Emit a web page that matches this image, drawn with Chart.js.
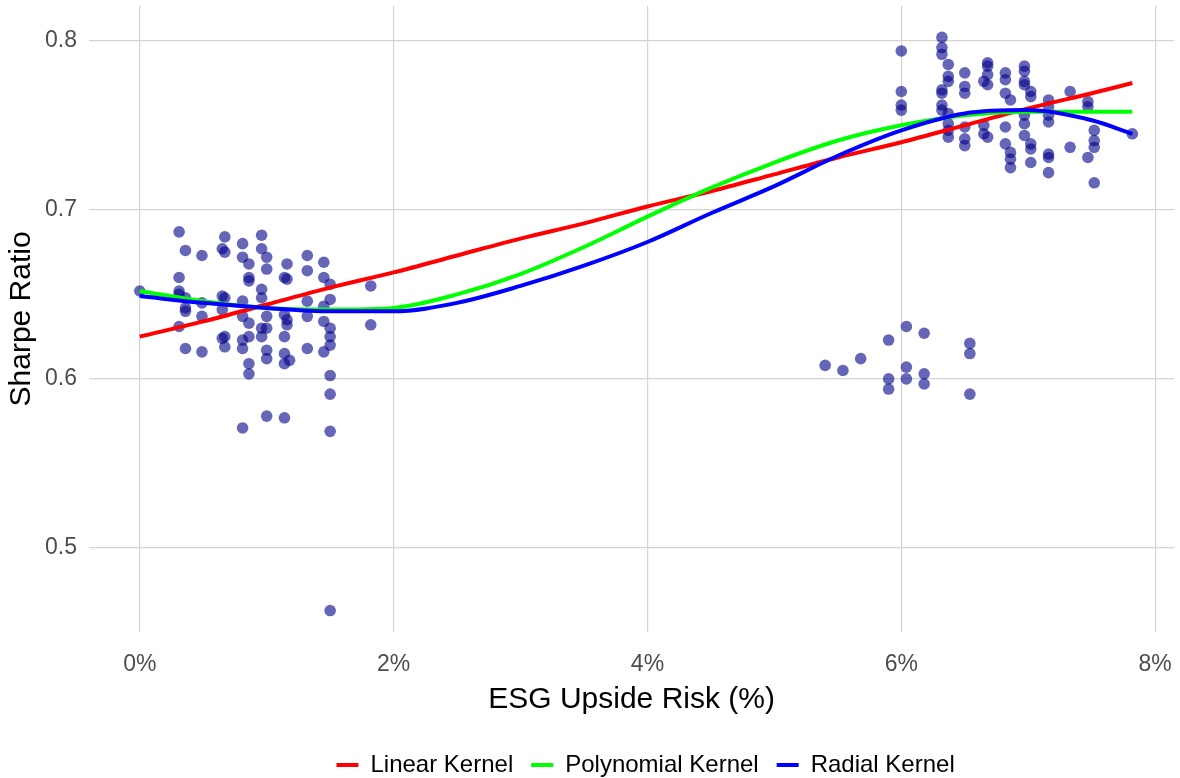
<!DOCTYPE html>
<html>
<head>
<meta charset="utf-8">
<script src="https://cdn.jsdelivr.net/npm/chart.js@4/dist/chart.umd.min.js"></script>
<style>
  html, body { margin: 0; padding: 0; background: #ffffff; }
  #wrap { width: 1180px; height: 778px; }
</style>
</head>
<body>
<div id="wrap"><canvas id="svmChart" width="1180" height="778"></canvas></div>
<script>
// Observed points: ESG upside risk (%) and Sharpe ratio
const scatterRisk = [
  0,
  0.31, 0.31, 0.31, 0.31, 0.31,
  0.36, 0.36, 0.36, 0.36, 0.36,
  0.49, 0.49, 0.49, 0.49,
  0.65, 0.65, 0.65, 0.65,
  0.67, 0.67, 0.67, 0.67, 0.67,
  0.81, 0.81, 0.81, 0.81, 0.81, 0.81, 0.81,
  0.86, 0.86, 0.86, 0.86, 0.86, 0.86, 0.86,
  0.96, 0.96, 0.96, 0.96, 0.96, 0.96,
  1.00, 1.00, 1.00, 1.00, 1.00, 1.00, 1.00,
  1.14, 1.14, 1.14, 1.14, 1.14, 1.14,
  1.16, 1.16, 1.16, 1.16,
  1.18,
  1.32, 1.32, 1.32, 1.32, 1.32,
  1.45, 1.45, 1.45, 1.45, 1.45,
  1.50, 1.50, 1.50, 1.50, 1.50, 1.50, 1.50, 1.50, 1.50,
  1.82, 1.82,
  5.40, 5.54, 5.68,
  5.90, 5.90, 5.90,
  6.04, 6.04, 6.04,
  6.18, 6.18, 6.18,
  6.54, 6.54, 6.54,
  6.00, 6.00, 6.00, 6.00,
  6.32, 6.32, 6.32, 6.32, 6.32, 6.32, 6.32,
  6.37, 6.37, 6.37, 6.37, 6.37, 6.37, 6.37,
  6.50, 6.50, 6.50, 6.50, 6.50, 6.50,
  6.65, 6.65, 6.65,
  6.68, 6.68, 6.68, 6.68, 6.68,
  6.82, 6.82, 6.82, 6.82, 6.82,
  6.86, 6.86, 6.86, 6.86,
  6.97, 6.97, 6.97, 6.97, 6.97, 6.97, 6.97,
  7.02, 7.02, 7.02, 7.02, 7.02,
  7.16, 7.16, 7.16, 7.16, 7.16, 7.16, 7.16,
  7.33, 7.33,
  7.47, 7.47, 7.47,
  7.52, 7.52, 7.52, 7.52,
  7.82
];
const scatterSharpe = [
  0.652,
  0.687, 0.660, 0.652, 0.650, 0.631,
  0.676, 0.648, 0.642, 0.640, 0.618,
  0.673, 0.645, 0.637, 0.616,
  0.677, 0.649, 0.641, 0.624,
  0.684, 0.675, 0.648, 0.625, 0.619,
  0.680, 0.672, 0.646, 0.637, 0.623, 0.618, 0.571,
  0.668, 0.660, 0.658, 0.633, 0.625, 0.609, 0.603,
  0.685, 0.677, 0.653, 0.648, 0.630, 0.625,
  0.672, 0.665, 0.637, 0.630, 0.617, 0.612, 0.578,
  0.660, 0.638, 0.625, 0.615, 0.609, 0.577,
  0.668, 0.659, 0.635, 0.632,
  0.611,
  0.673, 0.664, 0.646, 0.637, 0.618,
  0.669, 0.660, 0.643, 0.634, 0.616,
  0.656, 0.647, 0.630, 0.625, 0.620, 0.602, 0.591, 0.569, 0.463,
  0.655, 0.632,
  0.608, 0.605, 0.612,
  0.623, 0.600, 0.594,
  0.631, 0.607, 0.600,
  0.627, 0.603, 0.597,
  0.621, 0.615, 0.591,
  0.794, 0.770, 0.762, 0.759,
  0.802, 0.796, 0.792, 0.771, 0.769, 0.762, 0.759,
  0.786, 0.779, 0.776, 0.757, 0.751, 0.747, 0.743,
  0.781, 0.773, 0.769, 0.749, 0.742, 0.738,
  0.776, 0.750, 0.745,
  0.787, 0.785, 0.780, 0.774, 0.743,
  0.781, 0.777, 0.769, 0.749, 0.739,
  0.765, 0.734, 0.730, 0.725,
  0.785, 0.782, 0.776, 0.774, 0.756, 0.751, 0.744,
  0.770, 0.767, 0.739, 0.736, 0.728,
  0.765, 0.761, 0.756, 0.752, 0.733, 0.731, 0.722,
  0.770, 0.737,
  0.764, 0.761, 0.731,
  0.747, 0.741, 0.737, 0.716,
  0.745
];

// Fitted SVR curves, read at these x positions
const curveRisk   = [0, 0.5, 1, 1.5, 2, 2.5, 3, 3.5, 4, 4.5, 5, 5.5, 6, 6.5, 7, 7.5, 7.82];
const linearFit   = [0.625, 0.634, 0.644, 0.654, 0.663, 0.673, 0.683, 0.692, 0.702, 0.711, 0.721, 0.731, 0.740, 0.750, 0.760, 0.769, 0.775];
const polyFit     = [0.652, 0.646, 0.642, 0.641, 0.642, 0.650, 0.662, 0.678, 0.696, 0.713, 0.728, 0.741, 0.750, 0.756, 0.758, 0.758, 0.758];
const radialFit   = [0.649, 0.645, 0.642, 0.640, 0.640, 0.645, 0.655, 0.667, 0.681, 0.698, 0.714, 0.732, 0.747, 0.757, 0.759, 0.753, 0.745];

const xTicks = [0, 2, 4, 6, 8];
const yTicks = [0.5, 0.6, 0.7, 0.8];

const FONT = '"Liberation Sans", Arial, sans-serif';

function toPoints(xs, ys) {
  return xs.map((x, i) => ({ x: x, y: ys[i] }));
}

function fitLine(label, values, color, order) {
  return {
    type: 'line',
    label: label,
    data: toPoints(curveRisk, values),
    borderColor: color,
    backgroundColor: color,
    borderWidth: 4,
    pointRadius: 0,
    fill: false,
    tension: 0.4,
    cubicInterpolationMode: 'monotone',
    order: order
  };
}

// nudge the legend a little right, like the original layout
const legendShift = {
  id: 'legendShift',
  afterLayout(chart) {
    if (chart.legend) {
      chart.legend.left += 14;
      chart.legend.right += 14;
    }
  }
};

const ctx = document.getElementById('svmChart').getContext('2d');
const svmChart = new Chart(ctx, {
  type: 'scatter',
  data: {
    datasets: [
      fitLine('Linear Kernel', linearFit, '#ff0000', 3),
      fitLine('Polynomial Kernel', polyFit, '#00ff00', 2),
      fitLine('Radial Kernel', radialFit, '#0000ff', 1),
      {
        type: 'scatter',
        label: 'Observed',
        data: toPoints(scatterRisk, scatterSharpe),
        backgroundColor: 'rgba(0, 0, 139, 0.6)',
        borderWidth: 0,
        pointRadius: 5.8,
        order: 10
      }
    ]
  },
  plugins: [legendShift],
  options: {
    responsive: false,
    animation: false,
    layout: { padding: { top: 5, right: 2, left: 0, bottom: -9 } },
    scales: {
      x: {
        type: 'linear',
        min: -0.4,
        max: 8.15,
        afterBuildTicks: (scale) => { scale.ticks = xTicks.map(v => ({ value: v })); },
        afterFit: (scale) => {
          scale.height = 103;
          scale.paddingLeft = 0;
          scale.paddingRight = 0;
        },
        grid: { color: '#d4d4d4', lineWidth: 1.2, drawTicks: false },
        border: { display: false },
        ticks: {
          padding: 19,
          color: '#4d4d4d',
          font: { family: FONT, size: 23 },
          callback: (v) => v + '%'
        },
        title: {
          display: true,
          text: 'ESG Upside Risk (%)',
          color: '#000000',
          font: { family: FONT, size: 30 },
          padding: { top: 0, bottom: 17 }
        }
      },
      y: {
        type: 'linear',
        min: 0.4503,
        max: 0.8207,
        afterBuildTicks: (scale) => { scale.ticks = yTicks.map(v => ({ value: v })); },
        afterFit: (scale) => {
          scale.width = 89;
          scale.paddingTop = 0;
          scale.paddingBottom = 0;
        },
        grid: { color: '#d4d4d4', lineWidth: 1.2, drawTicks: false },
        border: { display: false },
        ticks: {
          padding: 12,
          color: '#4d4d4d',
          font: { family: FONT, size: 23 },
          callback: (v) => v.toFixed(1)
        },
        title: {
          display: true,
          text: 'Sharpe Ratio',
          color: '#000000',
          font: { family: FONT, size: 30 },
          padding: { top: 4, bottom: 0 }
        }
      }
    },
    plugins: {
      legend: {
        position: 'bottom',
        fullSize: false,
        labels: {
          filter: (item) => item.text !== 'Observed',
          sort: (a, b) => a.datasetIndex - b.datasetIndex,
          usePointStyle: true,
          pointStyle: 'line',
          pointStyleWidth: 22,
          color: '#000000',
          padding: 18,
          font: { family: FONT, size: 24 }
        }
      },
      tooltip: { enabled: false }
    }
  }
});
</script>
</body>
</html>
